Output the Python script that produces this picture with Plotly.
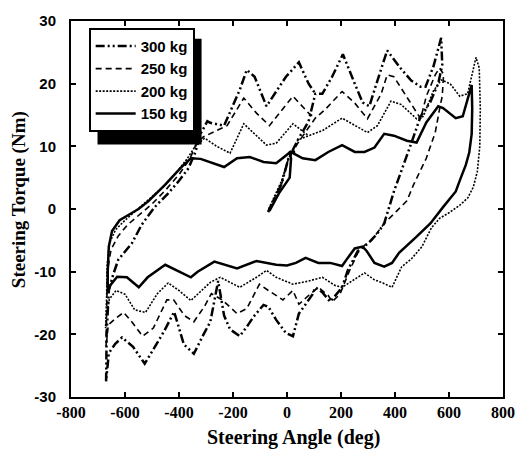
import plotly.graph_objects as go

# ---------------- data (steering angle in deg, torque in Nm) ----------------
series_names = ["300 kg", "250 kg", "200 kg", "150 kg"]

angle_300 = [-70, -20, 5, 40, 80, 105,
             131, 167, 207, 225, 251, 280, 305, 335, 371, 420, 460, 495, 513, 542, 571,
             575, 560, 530, 495, 458, 422, 396, 360, 335, 300, 262,
             225, 204, 160, 131, 105, 95, 69, 44, 22, -4, -40, -69, -87, -124, -149, -175,
             -211, -233, -255, -270, -284, -309, -345, -382, -418, -455, -490, -527, -570,
             -611, -636, -660, -670,
             -668, -660, -644, -625, -575, -538, -490, -440, -400, -365, -340, -320, -295,
             -284, -233, -175, -149, -120, -76, -4, 44, 80, 105]
torque_300 = [-0.5, 4, 8, 11, 14, 18.4,
              18.4, 21.1, 24.7, 22.7, 20, 17, 16.4, 20.5, 25.3, 22.5, 20.5, 19.5, 19.5, 22.7, 27.3,
              23, 20, 17, 14.8, 10.2, 5.9, 2.8, -2.3, -3.9, -5.5, -6.7,
              -9.8, -12.5, -14.8, -13.3, -12.5, -13.6, -15.2, -16.7, -20.3, -19.8, -17.7, -15.6,
              -15.3, -17.2, -18.8, -20.3,
              -19.2, -17, -11.5, -15, -18, -20, -23.1, -21.6, -16.4, -19.5, -22, -24.7, -22,
              -20.5, -21.5, -23, -27.5,
              -20, -13, -10.5, -8.1, -5.5, -2.5, 0.3, 2.5, 4.5, 6.5, 9, 12, 14,
              13.75, 13.3, 19, 22.2, 21.1, 16.4, 21.1, 23.4, 20, 18.4]

angle_250 = [-70, -20, 5, 40, 80, 105,
             142, 204, 251, 298, 349, 371, 396, 458, 495, 516, 549, 565, 580,
             575, 567, 549, 516, 469, 444, 407, 360, 313, 287,
             262, 230, 196, 167, 153, 116, 80, 44, 22, -15, -69, -102, -149, -185, -240,
             -280, -305, -345, -380, -420, -445, -495, -535, -575, -605, -636, -662, -670,
             -668, -665, -652, -625, -590, -550, -500, -450, -400, -360, -335, -310,
             -284, -222, -160, -113, -65, 22, 80, 105]
torque_250 = [-0.3, 4, 8, 10.5, 13, 14.5,
              15.9, 18.75, 16.9, 14.4, 18.4, 21.4, 21.1, 16.9, 14.4, 18, 21.4, 22.5, 21.5,
              18, 16.4, 12.2, 8.1, 3.9, 1.3, -0.3, -2.3, -5, -5.8,
              -7, -10, -13.6, -14.8, -13.8, -12.5, -13.8, -15.2, -13, -14.5, -13, -12, -15.9,
              -16.7, -14.5,
              -13.5, -15.5, -18, -17, -14.5, -14.5, -19, -20.3, -18, -16.5, -17.5, -18.5, -22,
              -16, -10, -6.5, -4.3, -2.5, -1, 0.8, 3, 5.5, 8, 10.5, 11.5,
              12, 13.3, 17.7, 15.3, 13.3, 18, 15.3, 14.5]

angle_200 = [-68, -20, 5, 40, 80,
             131, 204, 251, 298, 335, 385, 422, 480, 505, 542, 571, 604, 640, 669, 700,
             712, 716, 714, 705, 690, 670, 640, 600, 565, 535, 500, 460, 425, 389,
             355, 324, 287, 262, 204, 178, 131, 80, 22, -40, -76, -113, -175, -247, -284,
             -331, -356, -400, -440, -480, -524, -564, -600, -633, -658, -668, -672,
             -668, -666, -658, -635, -600, -560, -510, -460, -410, -370, -340, -305,
             -260, -211, -160, -120, -76, -40, 22, 80]
torque_200 = [0, 4.5, 8, 11, 11.7,
              12.5, 14.5, 13.3, 12.2, 13.3, 17.2, 16.7, 14.4, 14.8, 18.8, 20.6, 20, 18, 18.4, 24.2,
              22.5, 16, 10, 6, 3.5, 1.8, 0.6, -0.6, -1.5, -3, -6, -8, -9.2, -12.5,
              -11.8, -11.3, -10.2, -10.9, -12.5, -12.2, -10.9, -11.5, -12, -10.9, -9.8, -10.9,
              -12.5, -10.9, -11.7,
              -13.6, -14.6, -13, -11.8, -13.5, -16.5, -16.1, -13.6, -13, -14.4, -17, -19,
              -14, -9, -5.5, -3.3, -1.8, -0.3, 1.5, 3.5, 5.8, 8, 10, 11.3,
              10, 8.9, 13.6, 12, 10.2, 10.5, 13.6, 11.7]

angle_150 = [-65, -30, 10, 15, 10,
             58, 105, 153, 204, 251, 287, 324, 360, 396, 444, 480, 516, 560, 578, 625, 651, 684,
             686, 684, 675, 662, 644, 625, 578, 531, 480, 415, 389, 360, 324, 295, 280,
             251, 225, 204, 160, 116, 69, 33, 0, -40, -113, -185, -269, -331, -356, -451,
             -516, -549, -593, -629, -655, -664,
             -664, -660, -648, -620, -589, -550, -513, -451, -393, -356, -320,
             -284, -233, -185, -138, -87, -40, 7, 30]
torque_150 = [-0.3, 2.5, 5, 8, 9.2,
              8.1, 7.8, 9.1, 10.2, 9.1, 9.1, 9.8, 12, 11.7, 10.9, 10.6, 13.8, 16.4, 16.1, 14.5,
              14.8, 19.8,
              16, 12, 9, 7, 5, 2.8, 0.3, -2.3, -4.4, -7, -8.6, -9.2, -8.6, -6.7, -6,
              -6.3, -7.8, -9.1, -8.6, -8.6, -7.8, -8.6, -9, -8.9, -8.3, -9.5, -8.4, -10, -10.9,
              -8.9,
              -10.9, -12.5, -10.9, -10.8, -12.2, -13.3,
              -10, -6, -3.5, -1.8, -1, 0, 1.25, 3.9, 6.6, 8.1, 8,
              7.5, 6.7, 8.1, 8.3, 7.5, 7.3, 8.9, 9.2]

x_tick_vals = [-800, -600, -400, -200, 0, 200, 400, 600, 800]
x_tick_text = ["-800", "-600", "-400", "-200", "0", "200", "400", "600", "800"]
y_tick_vals = [-30, -20, -10, 0, 10, 20, 30]
y_tick_text = ["-30", "-20", "-10", "0", "10", "20", "30"]
x_title = "Steering Angle (deg)"
y_title = "Steering Torque (Nm)"

angles = [angle_300, angle_250, angle_200, angle_150]
torques = [torque_300, torque_250, torque_200, torque_150]
styles = [dict(dash="9px,3px,2px,3px,2px,3px", width=2.5),
          dict(dash="6px,4px", width=1.6),
          dict(dash="2px,1.5px", width=1.6),
          dict(dash="solid", width=2.5)]

# ---------------- figure ----------------
fig = go.Figure()
for name, xs, ys, st in zip(series_names, angles, torques, styles):
    fig.add_trace(go.Scatter(x=xs, y=ys, mode="lines", name=name,
                             line=dict(color="black", width=st["width"], dash=st["dash"])))

L, R, T, B = 71, 16, 13, 55
W, H = 527, 452
pw, ph = W - L - R, H - T - B


def px2paper(px, py):
    return (px - L) / pw, (H - B - py) / ph


# legend drop shadow
sx0, sy0 = px2paper(98, 139)
sx1, sy1 = px2paper(204, 31)
fig.add_shape(type="rect", xref="paper", yref="paper", x0=sx0, y0=sy0, x1=sx1, y1=sy1,
              fillcolor="black", line=dict(width=0), layer="above")

lx, ly = px2paper(89, 20)
xtx, xty = px2paper(298, 438)
ytx, yty = px2paper(18, 195)

title_font = dict(family="Liberation Serif", size=19, color="black", weight="bold")
fig.add_annotation(text=x_title, xref="paper", yref="paper", x=xtx, y=xty,
                   xanchor="center", yanchor="middle", showarrow=False,
                   font=dict(title_font, size=20))
fig.add_annotation(text=y_title, xref="paper", yref="paper", x=ytx, y=yty,
                   xanchor="center", yanchor="middle", showarrow=False, textangle=-90,
                   font=title_font)

fig.update_layout(
    width=W, height=H,
    margin=dict(l=L, r=R, t=T, b=B, pad=0),
    paper_bgcolor="white", plot_bgcolor="white",
    showlegend=True,
    legend=dict(x=lx, y=ly, xanchor="left", yanchor="top",
                bgcolor="white", bordercolor="black", borderwidth=2,
                font=dict(family="Liberation Sans", size=15, color="black", weight="bold"),
                itemwidth=40, tracegroupgap=0),
    xaxis=dict(range=[-800, 800], tickvals=x_tick_vals, ticktext=x_tick_text,
               showline=True, mirror="ticks", linecolor="black", linewidth=2,
               ticks="inside", ticklen=5, tickwidth=1.5, tickcolor="black",
               showgrid=False, zeroline=False,
               tickfont=dict(family="Liberation Serif", size=16, color="black", weight="bold")),
    yaxis=dict(range=[-30, 30], tickvals=y_tick_vals, ticktext=y_tick_text,
               showline=True, mirror="ticks", linecolor="black", linewidth=2,
               ticks="inside", ticklen=5, tickwidth=1.5, tickcolor="black",
               showgrid=False, zeroline=False, ticklabelstandoff=10,
               tickfont=dict(family="Liberation Sans", size=15, color="black", weight="bold")),
)

fig.write_html("out.html")
